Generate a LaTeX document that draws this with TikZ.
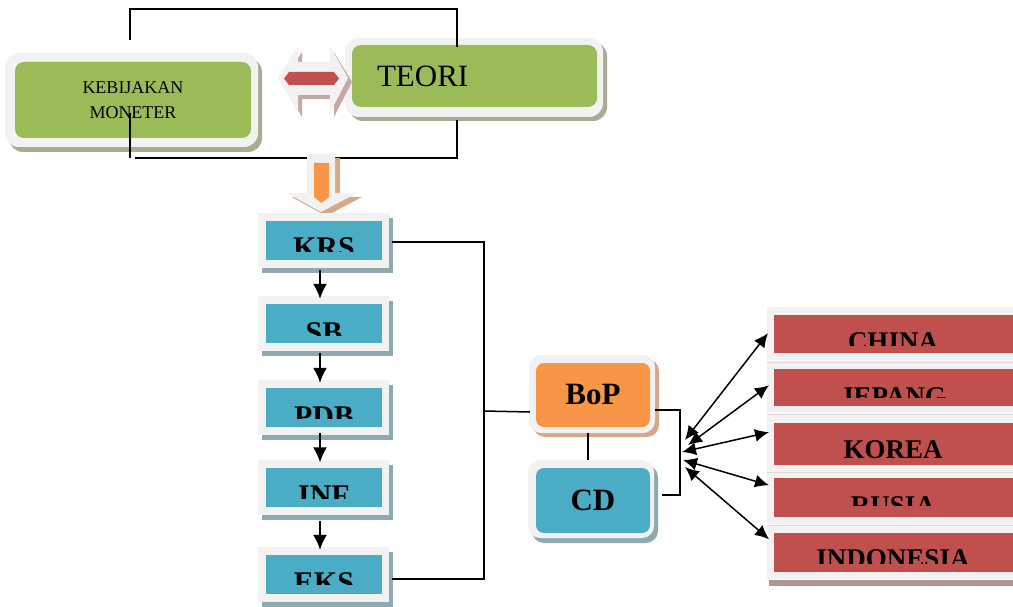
\documentclass[tikz,border=0pt]{standalone}
\usepackage{fontspec}
\setmainfont{Liberation Serif}
\usetikzlibrary{arrows.meta}
\definecolor{cgreen}{HTML}{9BBB59}
\definecolor{cblue}{HTML}{4BACC6}
\definecolor{corange}{HTML}{F79646}
\definecolor{cred}{HTML}{C0504D}
\definecolor{outergray}{HTML}{F2F2F2}
\definecolor{greenshadow}{HTML}{A8AC92}
\definecolor{blueshadow}{HTML}{8FA9B1}
\definecolor{orangeshadow}{HTML}{D4A889}
\definecolor{redshadow}{HTML}{B39494}
\definecolor{pinkshadow}{HTML}{C9A7A7}
\definecolor{sepline}{HTML}{E2D8D8}
\tikzset{
  conn/.style={line width=1.5pt, black},
  arr/.style={conn, -{Latex[length=15pt,width=14pt]}},
  darr/.style={conn, {Latex[length=14pt,width=13pt]}-{Latex[length=14pt,width=13pt]}},
  plainbox/.style={inner sep=0pt, draw=none},
  stacktext/.style={anchor=base, inner sep=0pt, font=\bfseries\fontsize{30}{30}\selectfont},
  countrytext/.style={anchor=base, inner sep=0pt, font=\bfseries\fontsize{27}{27}\selectfont},
}
% name, center y, text, baseline, cut
\newcommand{\stackitem}[5]{%
  \fill[blueshadow] (262,#2-22.5) rectangle (393,#2+32.5);
  \fill[outergray] (258,#2-27.5) rectangle (389,#2+27.5);
  \node[plainbox, fill=cblue, minimum width=116pt, minimum height=39pt] (#1) at (324,#2) {};
  \begin{scope}
    \clip (266,#2-19.5) rectangle (382,#5);
    \node[stacktext] (#1t) at (324,#4) {#3};
  \end{scope}}
% name, top, bottom, text, baseline, cut
\newcommand{\countryitem}[6]{%
  \fill[outergray] (767,#2-8) rectangle (1013,#3+7);
  \node[plainbox, fill=cred, anchor=north west, minimum width=239pt, minimum height={#3pt-#2pt}] (#1) at (774,#2) {};
  \begin{scope}
    \clip (774,#2) rectangle (1013,#6);
    \node[countrytext] (#1t) at (893,#5) {#4};
  \end{scope}}
\begin{document}
\begin{tikzpicture}[x=1pt,y=-1pt]
\useasboundingbox (0,0) rectangle (1013,607);

% ---- KEBIJAKAN MONETER box
\fill[greenshadow, rounded corners=14pt] (9,58) rectangle (262,152);
\fill[outergray, rounded corners=14pt] (5,53) rectangle (258,147);
\node[plainbox, fill=cgreen, rounded corners=9pt, minimum width=236pt, minimum height=76pt,
      align=center, font=\fontsize{18}{25}\selectfont] (keb) at (133,100) {KEBIJAKAN\\MONETER};

% ---- TEORI box
\fill[greenshadow, rounded corners=14pt] (349,42) rectangle (607,121);
\fill[outergray, rounded corners=14pt] (345,38) rectangle (603,117);
\node[fill=cgreen, rounded corners=9pt, inner ysep=0pt, inner xsep=25pt, text width=195pt,
      minimum height=62pt, align=left, font=\fontsize{31}{31}\selectfont] (teori) at (474.5,76) {TEORI};

% ---- double arrow between boxes
\fill[pinkshadow] (282,82) -- (302,52) -- (302,66) -- (334,66) -- (334,52) -- (352,82)
   -- (334,117) -- (334,99) -- (302,99) -- (302,117) -- cycle;
\fill[outergray] (278,78) -- (298,46) -- (298,62) -- (330,62) -- (330,46) -- (348,78)
   -- (330,113) -- (330,95) -- (298,95) -- (298,113) -- cycle;
\fill[cred] (284,78.5) -- (289,72) -- (334,72) -- (339,78.5) -- (334,85) -- (289,85) -- cycle;

% ---- connectors round the top pair
\coordinate (tl) at (130,40);
\coordinate (tr) at (457,9);
\coordinate (bl) at (130,158);
\coordinate (bl2) at (135,158);
\coordinate (br) at (457,158);
\draw[conn] (tl) |- (tr) -- ([xshift=-17.5pt,yshift=-2pt]teori.north);
\draw[conn] ([xshift=-3pt,yshift=-13pt]keb.center) -- (bl);
\draw[conn] (bl2) -- (br) -- ([xshift=-17.5pt,yshift=-13pt]teori.south);

% ---- orange down arrow
\fill[orangeshadow] (312,158) -- (340,158) -- (340,197) -- (362,197) -- (326,216) -- (292,197) -- (312,197) -- cycle;
\fill[outergray] (307,154) -- (335,154) -- (335,193) -- (357,193) -- (321,212) -- (287,193) -- (307,193) -- cycle;
\fill[corange] (314,163) -- (329,163) -- (329,197) -- (321.5,203) -- (314,197) -- cycle;

% ---- left stack
\stackitem{krs}{240.5}{KRS}{258}{251}
\stackitem{sb}{323.5}{SB}{342}{335}
\stackitem{pdb}{407.5}{PDB}{426}{418}
\stackitem{inf}{487}{INF}{505}{498}
\stackitem{eks}{574.5}{EKS}{592}{584}

\draw[arr] ([xshift=-4pt,yshift=-10pt]krs.south) -- ([xshift=-4pt,yshift=5pt]sb.north);
\draw[arr] ([xshift=-4pt,yshift=-10pt]sb.south) -- ([xshift=-4pt,yshift=5pt]pdb.north);
\draw[arr] ([xshift=-4pt,yshift=-6pt]pdb.south) -- ([xshift=-4pt,yshift=5pt]inf.north);
\draw[arr] ([xshift=-4pt,yshift=-14pt]inf.south) -- ([xshift=-4pt,yshift=5pt]eks.north);

% ---- BoP and CD
\fill[orangeshadow, rounded corners=12pt] (533,359) rectangle (659,437);
\fill[outergray, rounded corners=12pt] (529,355) rectangle (655,433);
\node[plainbox, fill=corange, rounded corners=8pt, minimum width=114pt, minimum height=64pt,
      font=\bfseries\fontsize{31}{31}\selectfont] (bop) at (593,395) {BoP};
\fill[blueshadow, rounded corners=12pt] (532,465) rectangle (658,543);
\fill[outergray, rounded corners=12pt] (528,460) rectangle (654,538);
\node[plainbox, fill=cblue, rounded corners=8pt, minimum width=114pt, minimum height=65pt,
      font=\bfseries\fontsize{31}{31}\selectfont] (cd) at (593,500.5) {CD};

% ---- bus from the stack to BoP
\coordinate (busTop) at (484,242);
\coordinate (busMid) at (484,411);
\coordinate (busBot) at (484,579);
\draw[conn] ([xshift=10pt,yshift=-1.5pt]krs.east) -- (busTop) -- (busBot) -- ([xshift=10pt,yshift=-4.5pt]eks.east);
\draw[conn] (busMid) -- ([xshift=-6pt,yshift=-17pt]bop.west);
\draw[conn] ([xshift=-5pt,yshift=-6pt]bop.south) -- ([xshift=-5pt,yshift=8pt]cd.north);

% ---- bracket right of BoP / CD
\coordinate (brT) at (680,410);
\coordinate (brB) at (680,495);
\draw[conn] ([xshift=5pt,yshift=-15pt]bop.east) -- (brT) -- (brB) -- ([xshift=12pt,yshift=5.5pt]cd.east);

% ---- countries
\countryitem{china}{315}{353}{CHINA}{350}{345}
\countryitem{jepang}{369}{406}{JEPANG}{405}{397}
\countryitem{korea}{423}{465}{KOREA}{458}{470}
\countryitem{rusia}{478}{517}{RUSIA}{514}{505}
\fill[redshadow] (769,580) rectangle (1013,586);
\countryitem{indonesia}{533}{572}{INDONESIA}{567}{563}
\foreach \y in {362,414,472,525} \draw[sepline, line width=0.8pt] (767,\y) -- (1013,\y);

% ---- arrows to countries
\coordinate (h1) at (685,440);
\coordinate (h2) at (688,445);
\coordinate (h3) at (682,452);
\coordinate (h4) at (683,460);
\coordinate (h5) at (685,467);
\draw[darr] (h1) -- ([xshift=-6pt,yshift=1pt]china.west);
\draw[darr] (h2) -- ([xshift=-5pt,yshift=2.5pt]jepang.west);
\draw[darr] (h3) -- ([xshift=-5pt,yshift=12pt]korea.west);
\draw[darr] (h4) -- ([xshift=-5pt,yshift=12.5pt]rusia.west);
\draw[darr] (h5) -- ([xshift=-5pt,yshift=13.5pt]indonesia.west);
\end{tikzpicture}
\end{document}
